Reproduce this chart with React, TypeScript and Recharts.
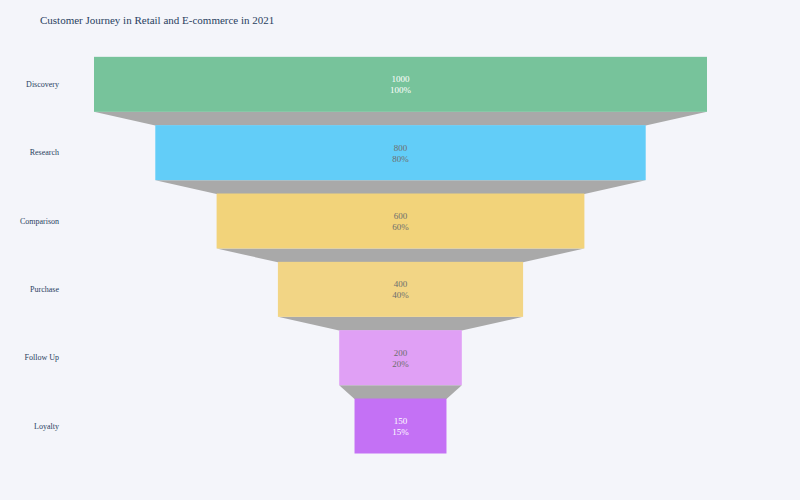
import { Bar, BarChart, LabelList, XAxis, YAxis } from 'recharts';

const stages = ['Discovery', 'Research', 'Comparison', 'Purchase', 'Follow Up', 'Loyalty'];
const counts = [1000, 800, 600, 400, 200, 150];
const stageColors = ['#77c39b', '#62cdf8', '#f2d37a', '#f2d585', '#e0a0f5', '#c471f5'];

const TOP = counts[0];

const chartData = stages.map((stage, i) => ({
  stage,
  value: counts[i],
  pad: (TOP - counts[i]) / 2,
  pct: Math.round((counts[i] / TOP) * 100),
  color: stageColors[i],
}));

function textColorFor(hex: string) {
  const r = parseInt(hex.slice(1, 3), 16);
  const g = parseInt(hex.slice(3, 5), 16);
  const b = parseInt(hex.slice(5, 7), 16);
  const brightness = (r * 299 + g * 587 + b * 114) / 1000;
  return brightness < 170 ? '#ffffff' : '#6e6e6e';
}

// bar + gray connector down to the next stage
function FunnelShape(props: any) {
  const { x, y, width, height, index, payload } = props;
  const next = chartData[index + 1];
  let connector = null;
  if (next) {
    const nextW = (width * next.value) / payload.value;
    const nx = x + (width - nextW) / 2;
    const y0 = y + height;
    const y1 = y + height + height / 4;
    connector = (
      <polygon
        points={`${x},${y0} ${x + width},${y0} ${nx + nextW},${y1} ${nx},${y1}`}
        fill="#a9a9a9"
      />
    );
  }
  return (
    <g>
      {connector}
      <rect x={x} y={y} width={width} height={height} fill={payload.color} />
    </g>
  );
}

function StageLabel(props: any) {
  const { x, y, width, height, index } = props;
  const d = chartData[index];
  const cx = x + width / 2;
  const cy = y + height / 2;
  const fill = textColorFor(d.color);
  return (
    <text x={cx} textAnchor="middle" fill={fill} fontSize={9} fontFamily="'Liberation Serif', serif">
      <tspan x={cx} y={cy - 2}>{d.value}</tspan>
      <tspan x={cx} y={cy + 9}>{d.pct}%</tspan>
    </text>
  );
}

export default function App() {
  return (
    <div
      style={{
        position: 'absolute',
        left: 0,
        top: 0,
        width: 800,
        height: 500,
        background: '#f4f5fa',
        fontFamily: "'Liberation Serif', serif",
      }}
    >
      <div
        style={{
          position: 'absolute',
          left: 40,
          top: 14,
          fontSize: 11,
          color: '#2a3f5f',
        }}
      >
        Customer Journey in Retail and E-commerce in 2021
      </div>
      <BarChart
        width={800}
        height={500}
        data={chartData}
        layout="vertical"
        barCategoryGap="10%"
        margin={{ top: 50, right: 93, bottom: 40, left: 0 }}
      >
        <XAxis type="number" hide domain={[0, TOP]} />
        <YAxis
          type="category"
          dataKey="stage"
          width={94}
          axisLine={false}
          tickLine={false}
          tickSize={0}
          tickMargin={35}
          tick={{ fontSize: 8, fill: '#2a3f5f', fontFamily: "'Liberation Serif', serif" }}
        />
        <Bar dataKey="pad" stackId="f" fill="transparent" isAnimationActive={false} />
        <Bar dataKey="value" stackId="f" shape={<FunnelShape />} isAnimationActive={false}>
          <LabelList dataKey="value" content={<StageLabel />} />
        </Bar>
      </BarChart>
    </div>
  );
}
